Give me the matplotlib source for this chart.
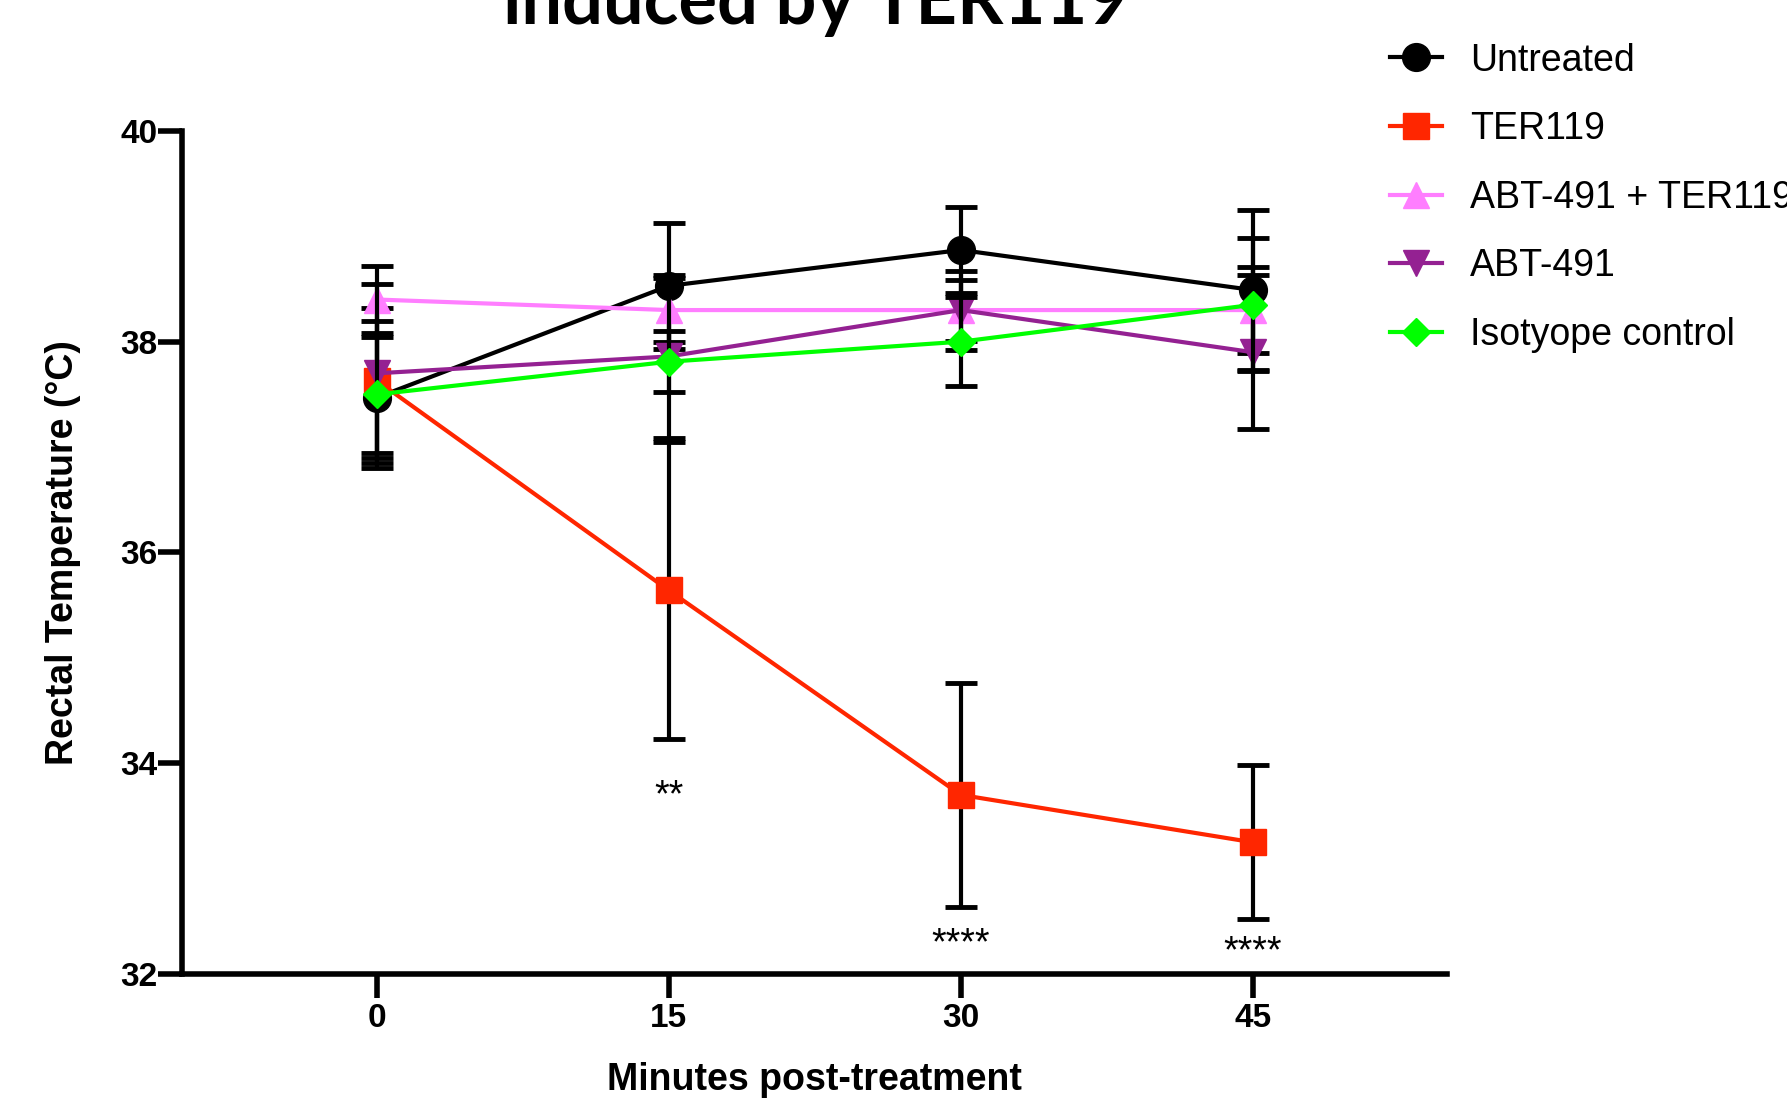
import numpy as np
import matplotlib
matplotlib.use("Agg")
import matplotlib.pyplot as plt

# rectal temperature (deg C) vs minutes post-treatment, mean +/- error
minutes = [0, 15, 30, 45]

untreated = [37.47, 38.53, 38.87, 38.49]
untreated_err = [0.57, 0.60, 0.41, 0.76]
ter119 = [37.63, 35.64, 33.70, 33.25]
ter119_err = [0.69, 1.41, 1.06, 0.73]
abt_ter = [38.40, 38.30, 38.30, 38.30]
abt_ter_err = [0.32, 0.30, 0.29, 0.41]
abt = [37.70, 37.86, 38.30, 37.90]
abt_err = [0.85, 0.77, 0.375, 0.73]
isotype = [37.50, 37.81, 38.00, 38.35]
isotype_err = [0.70, 0.29, 0.42, 0.63]

labels = ["Untreated", "TER119", "ABT-491 + TER119", "ABT-491", "Isotyope control"]
stars_x = [15, 30, 45]
stars_y = [33.78, 32.38, 32.30]
stars = ["**", "****", "****"]

series = [
    (untreated, untreated_err, "#000000", "o", 20),
    (ter119, ter119_err, "#FF2600", "s", 19),
    (abt_ter, abt_ter_err, "#FF7EFF", "^", 19),
    (abt, abt_err, "#942192", "v", 19),
    (isotype, isotype_err, "#00FF00", "D", 14),
]

plt.rcParams.update({"font.family": ["Liberation Sans", "DejaVu Sans"]})
fig = plt.figure(figsize=(17.87, 11), dpi=100)
ax = fig.add_axes([0.102, 0.1145, 0.708, 0.7665])

for i, ((y, e, c, m, ms), lab) in enumerate(zip(series, labels)):
    ax.errorbar(minutes, y, yerr=e, fmt="none", ecolor="k", elinewidth=3,
                capsize=11.5, capthick=3.5, zorder=2 + 2 * i)
    ax.plot(minutes, y, color=c, lw=3, marker=m, ms=ms, mec=c, mfc=c,
            label=lab, zorder=3 + 2 * i)

for x, y, s in zip(stars_x, stars_y, stars):
    ax.text(x, y - 0.19, s, ha="center", va="baseline", fontsize=27)

ax.set_xlim(-10, 55)
ax.set_ylim(32, 40)
ax.set_xticks(minutes)
ax.set_yticks([32, 34, 36, 38, 40])
for sp in ("top", "right"):
    ax.spines[sp].set_visible(False)
for sp in ("left", "bottom"):
    ax.spines[sp].set_linewidth(4)
ax.tick_params(direction="out", length=17, width=4)
ax.tick_params(axis="y", pad=1, labelsize=24)
ax.tick_params(axis="x", pad=4, labelsize=24)
for t in ax.get_xticklabels() + ax.get_yticklabels():
    t.set_fontweight("bold")

ax.set_xlabel("Minutes post-treatment", fontsize=27, fontweight="bold")
ax.xaxis.set_label_coords(0.5, -0.126)
ax.xaxis.label.set_va("center")
ax.set_ylabel("Rectal Temperature (°C)", fontsize=27, fontweight="bold")
ax.yaxis.set_label_coords(-0.094, 0.5)
ax.yaxis.label.set_va("center")

fig.text(0.4566, 0.978, "induced by TER119", ha="center", va="baseline",
         fontsize=52, fontweight="bold", family="Lato")

ax.legend(loc="upper left", bbox_to_anchor=(0.7778, 0.9613),
          bbox_transform=fig.transFigure, frameon=False, fontsize=27,
          borderpad=0, borderaxespad=0, handlelength=1.39,
          handletextpad=0.75, labelspacing=0.87)

fig.savefig("out.png", dpi=100)
